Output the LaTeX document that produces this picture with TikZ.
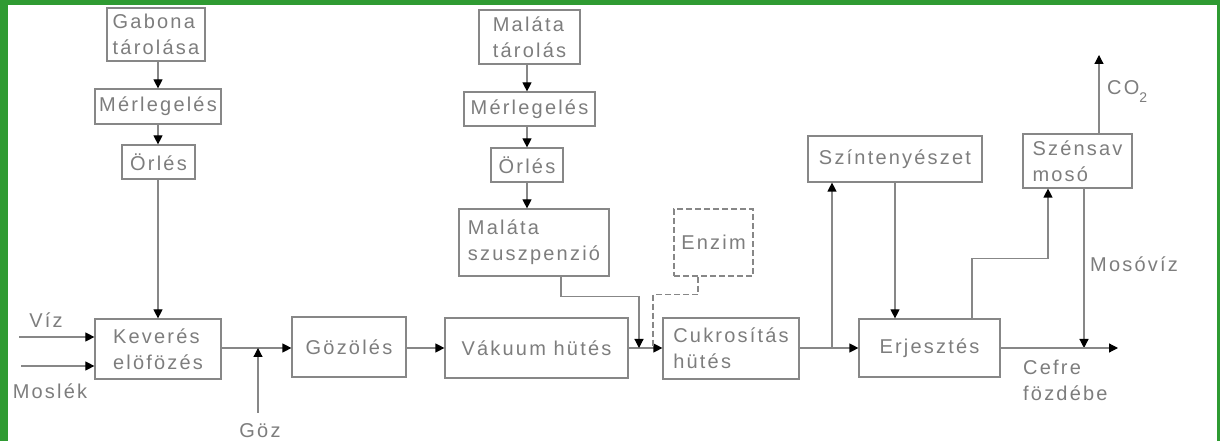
\documentclass[tikz,border=0pt]{standalone}
\usepackage{fontspec}
\setmainfont{Liberation Sans}[LetterSpace=11]
\usetikzlibrary{arrows.meta}
\definecolor{bordergreen}{RGB}{47,155,50}
\definecolor{linegray}{RGB}{135,135,135}
\definecolor{textgray}{RGB}{125,125,125}
\begin{document}
\begin{tikzpicture}[x=1bp,y=-1bp,
  txt/.style={text=textgray, font=\fontsize{20bp}{26bp}\selectfont},
  box/.style={txt, draw=linegray, line width=1.2bp, align=left, inner sep=0pt},
  dbox/.style={box, dash pattern=on 6bp off 3bp},
  lbl/.style={txt, inner sep=0pt, align=left},
  conn/.style={draw=linegray, line width=1.2bp},
  flow/.style={conn, -{Triangle[length=9bp,width=9bp,color=black]}},
]
\useasboundingbox (0,0) rectangle (1220,441);
% border
\fill[bordergreen] (0,0) rectangle (8,441);
\fill[bordergreen] (0,0) rectangle (1220,5);
\fill[bordergreen] (1217,0) rectangle (1220,441);

% left column
\node[box, minimum width=98bp, minimum height=53bp] (gab) at (156,34.5) {Gabona\\tárolása};
\node[box, minimum width=126bp, minimum height=35bp] (mer1) at (158,106.5) {Mérlegelés};
\node[box, minimum width=73bp, minimum height=34bp] (orl1) at (158.5,162) {Örlés};
\node[box, minimum width=126bp, minimum height=60bp] (kev) at (158,349) {Keverés\\elöfözés};

% middle column
\node[box, minimum width=101bp, minimum height=54bp] (mal) at (529.5,37) {Maláta\\tárolás};
\node[box, minimum width=131bp, minimum height=34bp] (mer2) at (529.5,109) {Mérlegelés};
\node[box, minimum width=72bp, minimum height=34bp] (orl2) at (527,165) {Örlés};
\node[box, minimum width=150bp, minimum height=67bp] (susz) at (534,242.5) {Maláta\\szuszpenzió};
\node[dbox, minimum width=79bp, minimum height=67bp] (enz) at (713.5,242.5) {Enzim};

% main row
\node[box, minimum width=114bp, minimum height=60bp] (goz) at (349,347) {Gözölés};
\node[box, minimum width=183bp, minimum height=60bp] (vak) at (536.5,348) {Vákuum hütés};
\node[box, minimum width=136bp, minimum height=61bp] (cuk) at (731,348.5) {Cukrosítás\\hütés};
\node[box, minimum width=141bp, minimum height=58bp] (erj) at (929.5,348) {Erjesztés};

% right upper
\node[box, minimum width=174bp, minimum height=46bp] (szin) at (895,159) {Színtenyészet};
\node[box, minimum width=109bp, minimum height=54bp] (szen) at (1077.5,161) {Szénsav\\mosó};

% labels
\node[lbl] (lviz) at (46,320) {Víz};
\node[lbl] (lmos) at (50,391) {Moslék};
\node[lbl] (lgoz) at (260,431) {Göz};
\node[lbl, anchor=west] (lco2) at (1107,92) {CO\raisebox{-8bp}{\fontsize{14bp}{14bp}\selectfont 2}};
\node[lbl, anchor=west] (lmv) at (1090,264) {Mosóvíz};
\node[lbl, anchor=west] (lcef) at (1023,380) {Cefre\\fözdébe};

% coordinates
\coordinate (vizin) at (19,337);
\coordinate (mosin) at (21,366);
\coordinate (gozin) at (258,413);
\coordinate (j1) at (639,348);
\coordinate (j2) at (653,348);
\coordinate (j3) at (832,348);
\coordinate (co2) at (1099,55);
\coordinate (mv) at (1084,348);
\coordinate (out) at (1118,348);

% left column flow
\draw[flow] (mer1.north |- gab.south) -- (mer1.north);
\draw[flow] (mer1.south) -- (mer1.south |- orl1.north);
\draw[flow] (orl1.south -| kev.north) -- (kev.north);
\draw[flow] (vizin) -- (vizin -| kev.west);
\draw[flow] (mosin) -- (mosin -| kev.west);

% middle column flow
\draw[flow] (orl2.north |- mal.south) -- (orl2.north |- mer2.north);
\draw[flow] (orl2.north |- mer2.south) -- (orl2.north);
\draw[flow] (orl2.south) -- (orl2.south |- susz.north);

% main row
\draw[flow] (kev.east |- j1) -- (j1 -| goz.west);
\draw[flow] (gozin) -- (gozin |- j1);
\draw[flow] (goz.east |- j1) -- (j1 -| vak.west);
\draw[flow] (vak.east |- j1) -- (j1 -| cuk.west);
\draw[flow] ([xshift=27bp]susz.south) -- ++(0,20) -| (j1);
\draw[conn, dash pattern=on 6bp off 3bp] ([xshift=-15.5bp]enz.south) -- ++(0,18) -| (j2);
\draw[flow] (cuk.east |- j1) -- (j1 -| erj.west);
\draw[flow] (j3) -- (j3 |- szin.south);
\draw[flow] (szin.south) -- (szin.south |- erj.north);
\draw[flow] ([xshift=42.5bp]erj.north) -- ++(0,-60) -| ([xshift=-29.5bp]szen.south);
\draw[flow] (co2 |- szen.north) -- (co2);
\draw[flow] (mv |- szen.south) -- (mv);
\draw[flow] (erj.east |- out) -- (out);
\end{tikzpicture}
\end{document}
